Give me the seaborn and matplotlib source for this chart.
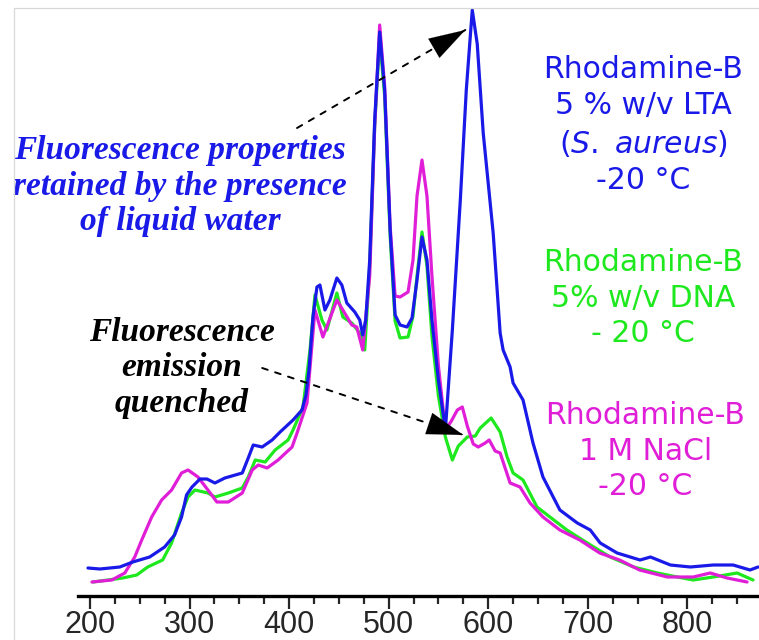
import matplotlib
matplotlib.use("Agg")
import matplotlib.pyplot as plt
import seaborn as sns
import pandas as pd
from matplotlib.ticker import MultipleLocator
from matplotlib.lines import Line2D

sns.set_style("white")
plt.rcParams["font.family"] = ["DejaVu Sans"]

# ---- data (wavelength nm, intensity a.u.) ----
blue_x = [198, 210, 230, 243, 260, 275, 285, 292, 297, 302.5, 310.5, 317.5, 325.5, 335.5, 353, 359, 364,
          373, 383, 391, 404, 413, 417, 420, 424, 428, 431, 436, 441, 448, 453, 458, 466, 471, 474, 477,
          481, 486, 491, 496, 501.5, 506.5, 511.5, 518.5, 523.5, 528.5, 533.5, 538.5, 543.5, 550, 557,
          564, 572, 578, 584, 589, 595, 602, 605, 612, 615, 622, 625, 635, 645, 655, 672, 689.5, 702.5,
          712.5, 729.5, 752.5, 763, 783, 803, 826, 846, 863, 871]
blue_y = [28, 27, 29, 34, 39, 49, 61, 79, 101, 109, 117, 117, 113, 118, 123, 138, 151,
          149, 156, 164, 176, 186, 201, 226, 279, 309, 311, 286, 296, 318, 311, 293, 284, 276, 261, 276,
          336, 476, 564, 506, 366, 281, 271, 269, 278, 316, 359, 336, 276, 216, 166,
          266, 396, 506, 586, 552, 463, 393, 363, 263, 246, 229, 213, 196, 153, 119, 86, 73, 66,
          53, 43, 36, 39, 31, 29, 31, 31, 26, 29]

green_x = [203, 233, 247, 258, 273, 282, 292, 298.5, 305.5, 318.5, 325.5, 339, 353, 359, 366, 376, 386,
           399, 404, 414, 421, 426, 433, 438, 448, 454, 463, 471, 476, 481, 486, 491, 496, 501.5, 506.5,
           511.5, 519.5, 524.5, 528.5, 533.5, 538.5, 543.5, 550, 557, 564, 570, 579, 587, 592, 603, 612,
           619, 625, 635, 649, 662, 679, 699.5, 722.5, 746, 770, 790, 806, 826, 850, 866]
green_y = [14, 18, 21, 29, 36, 53, 83, 99, 106, 103, 99, 103, 108, 119, 136, 134, 146,
           156, 166, 189, 246, 301, 276, 266, 303, 279, 273, 263, 246, 330, 470, 558, 500, 360, 275,
           258, 259, 280, 320, 364, 330, 260, 200, 159, 136, 150, 159, 160, 168, 178, 164,
           139, 123, 116, 89, 79, 66, 53, 39, 29, 23, 19, 16, 19, 23, 16]

mag_x = [202, 222, 235, 245, 252, 262, 272, 282, 292, 298.5, 308.5, 318.5, 327.5, 339, 353, 363, 369,
         378, 389, 403, 408, 418, 426, 434, 448, 463, 468, 474, 481, 486, 491, 496, 501.5, 506.5,
         511.5, 519.5, 524.5, 528.5, 533.5, 538.5, 543.5, 550, 557, 563, 569, 574, 579, 585, 590, 597,
         601, 607, 612, 622, 632, 642, 655, 672, 692, 712, 732, 752, 780, 806, 823, 840, 860]
mag_y = [14, 16, 23, 39, 56, 79, 96, 106, 123, 126, 119, 106, 94, 94, 103, 126, 131,
         128, 136, 149, 163, 193, 286, 259, 296, 271, 269, 246, 320, 470, 571, 510, 370, 300,
         299, 304, 336, 400, 436, 400, 320, 230, 166, 175, 186, 189, 170, 152, 149, 153,
         156, 145, 143, 113, 109, 93, 79, 66, 56, 43, 36, 26, 19, 19, 23, 18, 14]

x_ticks = [200, 300, 400, 500, 600, 700, 800]

BLUE = "#1a1ae8"
GREEN = "#1ee81e"
MAG = "#e01ed8"

fig = plt.figure(figsize=(7.59, 6.40), dpi=100)
ax = fig.add_axes([78 / 759, 44 / 640, 681 / 759, 596 / 640])

# faint frame at top-left (image border)
fig.add_artist(Line2D([13.5 / 759, 1], [1 - 7.5 / 640, 1 - 7.5 / 640], color="#d8d8d8", lw=0.9))
fig.add_artist(Line2D([13.5 / 759, 13.5 / 759], [0, 1 - 7.5 / 640], color="#d8d8d8", lw=0.9))

for xs, ys, c in [(green_x, green_y, GREEN), (mag_x, mag_y, MAG), (blue_x, blue_y, BLUE)]:
    df = pd.DataFrame({"nm": xs, "I": ys})
    sns.lineplot(data=df, x="nm", y="I", color=c, lw=2.3, ax=ax, sort=True)

ax.set_xlim(188, 872)
ax.set_ylim(0, 596)
ax.set_xlabel("")
ax.set_ylabel("")
ax.set_yticks([])
ax.patch.set_alpha(0)
for s in ["top", "right", "left"]:
    ax.spines[s].set_visible(False)
ax.spines["bottom"].set_linewidth(2.4)
ax.spines["bottom"].set_color("black")
ax.set_xticks(x_ticks)
ax.set_xticklabels([str(t) for t in x_ticks], fontsize=22, family="Liberation Sans")
ax.xaxis.set_minor_locator(MultipleLocator(25))
ax.tick_params(axis="x", which="major", direction="out", length=9, width=1.6, pad=1, bottom=True)
ax.tick_params(axis="x", which="minor", direction="out", length=6, width=1.6, bottom=True)

serif_kw = dict(family="Liberation Serif", weight="bold", style="italic", fontsize=24,
                ha="center", va="center", linespacing=1.2)
ax.text(290.5, 410, "Fluorescence properties\nretained by the presence\nof liquid water",
        color=BLUE, **serif_kw)
ax.text(292.5, 228, "Fluorescence\nemission\nquenched", color="black", **serif_kw)

sans_kw = dict(fontsize=21.5, ha="center", va="center", linespacing=1.3)
ax.text(755.8, 471, "Rhodamine-B\n5 % w/v LTA\n(" + r"$\mathit{S.}$ $\mathit{aureus}$" + ")\n-20 °C",
        color=BLUE, **sans_kw)
ax.text(755.8, 298, "Rhodamine-B\n5% w/v DNA\n- 20 °C", color=GREEN, **sans_kw)
ax.text(757.8, 145, "Rhodamine-B\n1 M NaCl\n-20 °C", color=MAG, **sans_kw)

# arrows: dashed shaft + solid head
for (x0, y0), (x1, y1) in [((408, 468), (577, 566)), ((373, 228), (575, 161))]:
    ax.annotate("", xy=(x1, y1), xytext=(x0, y0),
                arrowprops=dict(arrowstyle="-", linestyle=(0, (3, 4)), lw=1.4, color="black",
                                shrinkA=0, shrinkB=0))
    fx = x1 - (x1 - x0) * 0.12
    fy = y1 - (y1 - y0) * 0.12
    ax.annotate("", xy=(x1, y1), xytext=(fx, fy),
                arrowprops=dict(arrowstyle="-|>,head_length=1.3,head_width=0.4", lw=0.1,
                                color="black", mutation_scale=20, shrinkA=0, shrinkB=0))

fig.savefig("out.png", dpi=100)
